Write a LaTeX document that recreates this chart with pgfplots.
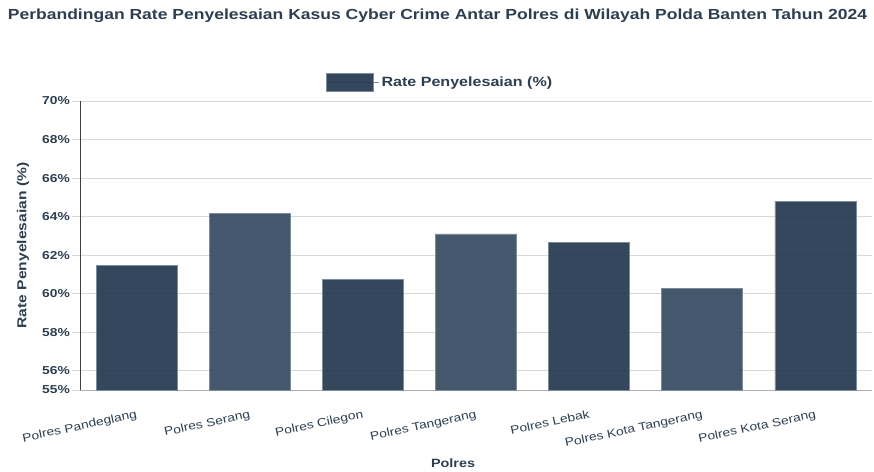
\documentclass[border=0pt]{standalone}
\usepackage{pgfplots}
\pgfplotsset{compat=1.18}
\usepackage{fontspec}
\setmainfont[FakeStretch=1.2]{Liberation Sans}
\definecolor{barA}{RGB}{35,55,78}
\definecolor{barB}{RGB}{54,74,98}
\definecolor{barEdge}{RGB}{125,140,155}
\definecolor{txt}{RGB}{44,62,80}
\definecolor{gridc}{RGB}{216,216,216}
\begin{document}
\begin{tikzpicture}
\useasboundingbox (0,0) rectangle (874bp,472bp);
\begin{axis}[
  at={(80bp,82bp)}, anchor=south west,
  scale only axis, width=792bp, height=289bp,
  xmin=-0.5, xmax=6.5, ymin=55, ymax=70,
  axis x line*=bottom, axis y line*=left,
  axis line style={draw=black!75, line width=0.8pt},
  x axis line style={draw=black!30, line width=1pt},
  ytick={55,56,58,60,62,64,66,68,70},
  yticklabel={\pgfmathprintnumber{\tick}\%},
  /pgf/number format/assume math mode=true,
  ymajorgrids, grid style={draw=gridc, line width=0.8pt},
  tick align=outside,
  major tick length=8bp,
  ytick style={draw=gridc, line width=0.8pt},
  xtick style={draw=none},
  xtick={0,1,2,3,4,5,6},
  xticklabels={Polres Pandeglang,Polres Serang,Polres Cilegon,Polres Tangerang,Polres Lebak,Polres Kota Tangerang,Polres Kota Serang},
  xticklabel style={rotate=12, anchor=north east, font=\fontsize{11.5bp}{13bp}\selectfont, text=txt, inner sep=1bp, yshift=-10bp, xshift=-2bp},
  yticklabel style={font=\bfseries\fontsize{11.5bp}{13bp}\selectfont, text=txt, inner sep=2bp},
  ylabel={Rate Penyelesaian (\%)},
  ylabel style={at={(axis description cs:-0.072,0.5)}, anchor=center, font=\bfseries\fontsize{13bp}{15bp}\selectfont, text=txt},
  xlabel={Polres},
  xlabel style={at={(axis description cs:0.471,-0.2526)}, anchor=center, font=\bfseries\fontsize{12bp}{14bp}\selectfont, text=txt},
  title={Perbandingan Rate Penyelesaian Kasus Cyber Crime Antar Polres di Wilayah Polda Banten Tahun 2024},
  title style={at={(axis description cs:0.4514,1.2734)}, anchor=center, yshift=0pt, font=\bfseries\fontsize{14.6bp}{17bp}\selectfont, text=txt},
  legend style={at={(axis description cs:0.4545,1.0657)}, anchor=center, draw=none, fill=none,
    font=\bfseries\fontsize{13.4bp}{15bp}\selectfont, text=txt},
  clip=false,
]
\addplot[ybar, bar width=81bp, bar shift=0pt, fill=barA, draw=barEdge, line width=0.8pt, fill opacity=0.92,
  legend image code/.code={\path (0bp,0bp) -- (53bp,0bp); \draw[fill=barA, draw=barEdge, line width=0.8pt] (0bp,-9bp) rectangle (47bp,9bp);}]
  coordinates {(0,61.45) (2,60.75) (4,62.68) (6,64.8)};
\addlegendentry{Rate Penyelesaian (\%)}
\addplot[ybar, bar width=81bp, bar shift=0pt, fill=barB, draw=barEdge, line width=0.8pt, fill opacity=0.92, forget plot]
  coordinates {(1,64.15) (3,63.1) (5,60.25)};
\end{axis}
\end{tikzpicture}
\end{document}
